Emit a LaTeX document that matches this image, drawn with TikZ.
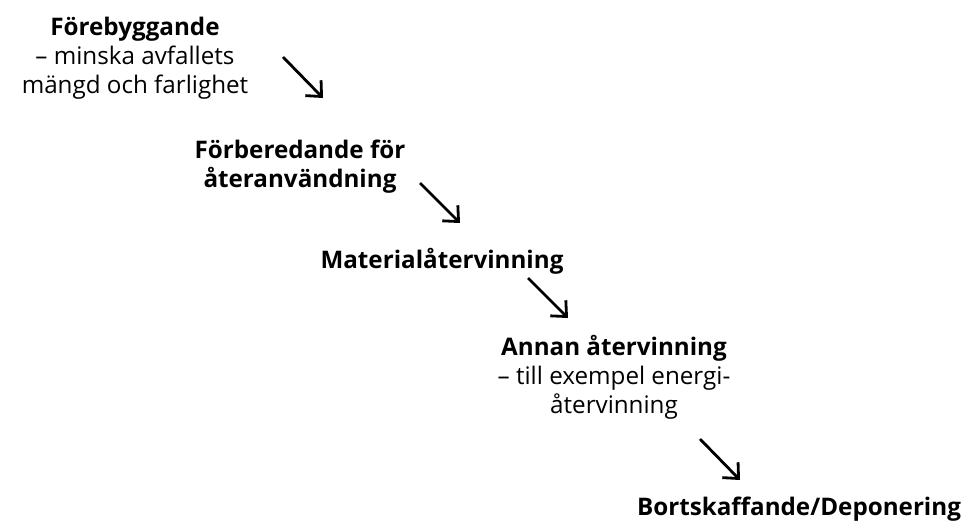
\documentclass[tikz,border=0pt]{standalone}
\usepackage{fontspec}
\setmainfont{Open Sans}
\usetikzlibrary{arrows.meta}

\begin{document}
\begin{tikzpicture}[
        x=1pt, y=-1pt,
        font=\fontsize{24.2}{29}\selectfont,
        step label/.style={align=center, anchor=base, inner sep=0pt},
        arrow/.style={-{Straight Barb[length=12pt, width=22pt]}, line width=2.8pt}
        ]
        \useasboundingbox (0,0) rectangle (967,522);

        % base = baseline of the last line
        \node[step label] (prev) at (135,93) {\textbf{Förebyggande}\\– minska avfallets\\mängd och farlighet};
        \node[step label] (reuse) at (300,187) {\textbf{Förberedande för}\\\textbf{återanvändning}};
        \node[step label] (mat) at (442,268) {\textbf{Materialåtervinning}};
        \node[step label] (other) at (614,413) {\textbf{Annan återvinning}\\– till exempel energi-\\återvinning};
        \node[step label] (disp) at (799,515) {\textbf{Bortskaffande/Deponering}};

        \coordinate (a1) at (283,57);  \coordinate (b1) at (323,98);
        \coordinate (a2) at (420,183); \coordinate (b2) at (460,223);
        \coordinate (a3) at (528,278); \coordinate (b3) at (568,318);
        \coordinate (a4) at (700,439); \coordinate (b4) at (740,480);

        \draw[arrow] (a1) -- (b1);
        \draw[arrow] (a2) -- (b2);
        \draw[arrow] (a3) -- (b3);
        \draw[arrow] (a4) -- (b4);
    \end{tikzpicture}
\end{document}
